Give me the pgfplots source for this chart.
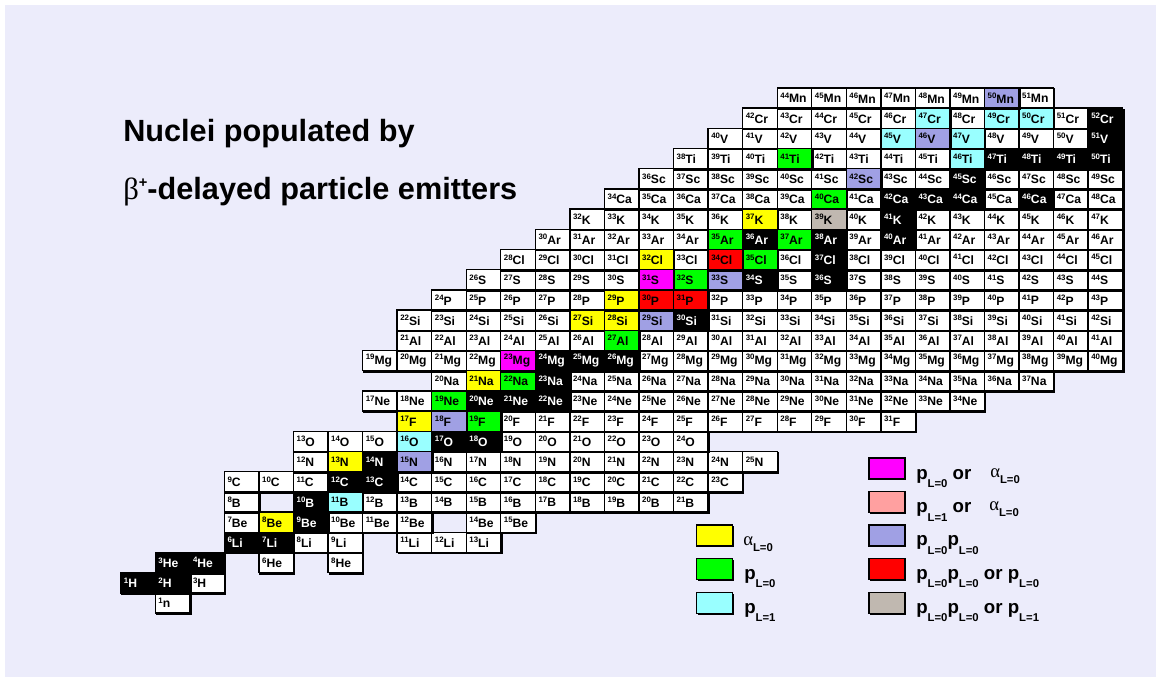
\documentclass[border=0pt]{standalone}
\usepackage{pgfplots}
\pgfplotsset{compat=1.18}
\usepackage{pgfplotstable}
\usepackage{fontspec}
\setmainfont{Liberation Sans}
\newfontfamily\grk{Liberation Serif}
\usetikzlibrary{shadows}

\definecolor{bgl}{RGB}{236,236,251}
\definecolor{cyc}{RGB}{153,255,255}
\definecolor{lav}{RGB}{160,160,228}
\definecolor{tanc}{RGB}{192,184,176}
\definecolor{pinkc}{RGB}{255,160,160}
\definecolor{yel}{RGB}{255,255,0}
\definecolor{grn}{RGB}{0,255,0}
\definecolor{mag}{RGB}{255,0,255}
\definecolor{rd}{RGB}{255,0,0}

\newcommand\cellsup[1]{\raisebox{3.4pt}{\fontsize{5.9}{5.9}\selectfont\bfseries #1}}
\newcommand\lsub[1]{\raisebox{-6.5pt}{\fontsize{8.5}{8.5}\selectfont\bfseries #1}}
\newcommand\asub[1]{\raisebox{-4.5pt}{\fontsize{8.5}{8.5}\selectfont\bfseries #1}}
\newcommand\alp{{\grk\mdseries α}}

\tikzset{
 cell/.style={rectangle, draw=black, line width=1pt, fill=#1, inner xsep=2.4pt, inner ysep=0pt,
   text width=21.1pt, align=left, minimum height=15.15pt, font=\fontsize{9.1}{9.5}\selectfont\bfseries,
   drop shadow={shadow xshift=0.9pt, shadow yshift=-0.9pt, fill=black, opacity=1}},
 swatch/.style={rectangle, draw=black, line width=1pt, fill=#1, inner sep=0pt,
   minimum width=26.8pt, minimum height=15.75pt,
   drop shadow={shadow xshift=0.9pt, shadow yshift=-0.9pt, fill=black, opacity=1}},
}

\pgfplotsset{
 cellplot/.style 2 args={only marks, mark=*, mark size=0.01pt, mark options={draw=none, fill=none},
   forget plot, color=black, point meta=explicit symbolic,
   visualization depends on={\thisrow{A}\as\massA},
   nodes near coords={\cellsup{\pgfmathprintnumber[fixed,precision=0,assume math mode=true]{\massA}}\pgfplotspointmeta},
   every node near coord/.style={cell=#1, text=#2, anchor=center}},
}

% Z = proton number, A = mass number, S = element symbol
\pgfplotstableread{
Z A S
0 1 n
1 3 H
2 6 He
2 8 He
3 8 Li
3 9 Li
3 11 Li
3 12 Li
3 13 Li
4 7 Be
4 10 Be
4 11 Be
4 12 Be
4 14 Be
4 15 Be
5 8 B
5 12 B
5 13 B
5 14 B
5 15 B
5 16 B
5 17 B
5 18 B
5 19 B
5 20 B
5 21 B
6 9 C
6 10 C
6 11 C
6 14 C
6 15 C
6 16 C
6 17 C
6 18 C
6 19 C
6 20 C
6 21 C
6 22 C
6 23 C
7 12 N
7 16 N
7 17 N
7 18 N
7 19 N
7 20 N
7 21 N
7 22 N
7 23 N
7 24 N
7 25 N
8 13 O
8 14 O
8 15 O
8 19 O
8 20 O
8 21 O
8 22 O
8 23 O
8 24 O
9 20 F
9 21 F
9 22 F
9 23 F
9 24 F
9 25 F
9 26 F
9 27 F
9 28 F
9 29 F
9 30 F
9 31 F
10 17 Ne
10 18 Ne
10 23 Ne
10 24 Ne
10 25 Ne
10 26 Ne
10 27 Ne
10 28 Ne
10 29 Ne
10 30 Ne
10 31 Ne
10 32 Ne
10 33 Ne
10 34 Ne
11 20 Na
11 24 Na
11 25 Na
11 26 Na
11 27 Na
11 28 Na
11 29 Na
11 30 Na
11 31 Na
11 32 Na
11 33 Na
11 34 Na
11 35 Na
11 36 Na
11 37 Na
12 19 Mg
12 20 Mg
12 21 Mg
12 22 Mg
12 27 Mg
12 28 Mg
12 29 Mg
12 30 Mg
12 31 Mg
12 32 Mg
12 33 Mg
12 34 Mg
12 35 Mg
12 36 Mg
12 37 Mg
12 38 Mg
12 39 Mg
12 40 Mg
13 21 Al
13 22 Al
13 23 Al
13 24 Al
13 25 Al
13 26 Al
13 28 Al
13 29 Al
13 30 Al
13 31 Al
13 32 Al
13 33 Al
13 34 Al
13 35 Al
13 36 Al
13 37 Al
13 38 Al
13 39 Al
13 40 Al
13 41 Al
14 22 Si
14 23 Si
14 24 Si
14 25 Si
14 26 Si
14 31 Si
14 32 Si
14 33 Si
14 34 Si
14 35 Si
14 36 Si
14 37 Si
14 38 Si
14 39 Si
14 40 Si
14 41 Si
14 42 Si
15 24 P
15 25 P
15 26 P
15 27 P
15 28 P
15 32 P
15 33 P
15 34 P
15 35 P
15 36 P
15 37 P
15 38 P
15 39 P
15 40 P
15 41 P
15 42 P
15 43 P
16 26 S
16 27 S
16 28 S
16 29 S
16 30 S
16 35 S
16 37 S
16 38 S
16 39 S
16 40 S
16 41 S
16 42 S
16 43 S
16 44 S
17 28 Cl
17 29 Cl
17 30 Cl
17 31 Cl
17 33 Cl
17 36 Cl
17 38 Cl
17 39 Cl
17 40 Cl
17 41 Cl
17 42 Cl
17 43 Cl
17 44 Cl
17 45 Cl
18 30 Ar
18 31 Ar
18 32 Ar
18 33 Ar
18 34 Ar
18 39 Ar
18 41 Ar
18 42 Ar
18 43 Ar
18 44 Ar
18 45 Ar
18 46 Ar
19 32 K
19 33 K
19 34 K
19 35 K
19 36 K
19 38 K
19 40 K
19 42 K
19 43 K
19 44 K
19 45 K
19 46 K
19 47 K
20 34 Ca
20 35 Ca
20 36 Ca
20 37 Ca
20 38 Ca
20 39 Ca
20 41 Ca
20 45 Ca
20 47 Ca
20 48 Ca
21 36 Sc
21 37 Sc
21 38 Sc
21 39 Sc
21 40 Sc
21 41 Sc
21 43 Sc
21 44 Sc
21 46 Sc
21 47 Sc
21 48 Sc
21 49 Sc
22 38 Ti
22 39 Ti
22 40 Ti
22 42 Ti
22 43 Ti
22 44 Ti
22 45 Ti
23 40 V
23 41 V
23 42 V
23 43 V
23 44 V
23 48 V
23 49 V
23 50 V
24 42 Cr
24 43 Cr
24 44 Cr
24 45 Cr
24 46 Cr
24 48 Cr
24 51 Cr
25 44 Mn
25 45 Mn
25 46 Mn
25 47 Mn
25 48 Mn
25 49 Mn
25 51 Mn
}\tabwhite

\pgfplotstableread{
Z A S
1 1 H
1 2 H
2 3 He
2 4 He
3 6 Li
3 7 Li
4 9 Be
5 10 B
6 12 C
6 13 C
7 14 N
8 17 O
8 18 O
10 20 Ne
10 21 Ne
10 22 Ne
11 23 Na
12 24 Mg
12 25 Mg
12 26 Mg
14 30 Si
16 34 S
16 36 S
17 37 Cl
18 36 Ar
18 38 Ar
18 40 Ar
19 41 K
20 42 Ca
20 43 Ca
20 44 Ca
20 46 Ca
21 45 Sc
22 47 Ti
22 48 Ti
22 49 Ti
22 50 Ti
23 51 V
24 52 Cr
}\tabblack

\pgfplotstableread{
Z A S
4 8 Be
7 13 N
9 17 F
11 21 Na
14 27 Si
14 28 Si
15 29 P
17 32 Cl
19 37 K
}\tabyellow

\pgfplotstableread{
Z A S
9 19 F
10 19 Ne
11 22 Na
13 27 Al
16 32 S
17 35 Cl
18 35 Ar
18 37 Ar
20 40 Ca
22 41 Ti
}\tabgreen

\pgfplotstableread{
Z A S
5 11 B
8 16 O
22 46 Ti
23 45 V
23 47 V
24 47 Cr
24 49 Cr
24 50 Cr
}\tabcyan

\pgfplotstableread{
Z A S
12 23 Mg
16 31 S
}\tabmagenta

\pgfplotstableread{
Z A S
7 15 N
9 18 F
14 29 Si
16 33 S
21 42 Sc
23 46 V
25 50 Mn
}\tablav

\pgfplotstableread{
Z A S
15 30 P
15 31 P
17 34 Cl
}\tabred

\pgfplotstableread{
Z A S
19 39 K
}\tabtan

\begin{document}
\begin{tikzpicture}
\fill[white] (0,0) rectangle (867pt,507.75pt);
\fill[bgl] (3.75pt,0) rectangle (867pt,504pt);
\begin{axis}[
  at={(0,0)}, anchor=south west,
  scale only axis, hide axis,
  x=25.9125pt, y=15.15pt,
  xmin=-3.994, xmax=29.464, ymin=-3.663, ymax=29.851,
  enlargelimits=false, clip=false,
]
\addplot[cellplot={white}{black}] table[x expr=\thisrow{A}-\thisrow{Z}, y=Z, meta=S] {\tabwhite};
\addplot[cellplot={black}{white}] table[x expr=\thisrow{A}-\thisrow{Z}, y=Z, meta=S] {\tabblack};
\addplot[cellplot={yel}{black}] table[x expr=\thisrow{A}-\thisrow{Z}, y=Z, meta=S] {\tabyellow};
\addplot[cellplot={grn}{black}] table[x expr=\thisrow{A}-\thisrow{Z}, y=Z, meta=S] {\tabgreen};
\addplot[cellplot={cyc}{black}] table[x expr=\thisrow{A}-\thisrow{Z}, y=Z, meta=S] {\tabcyan};
\addplot[cellplot={mag}{black}] table[x expr=\thisrow{A}-\thisrow{Z}, y=Z, meta=S] {\tabmagenta};
\addplot[cellplot={lav}{black}] table[x expr=\thisrow{A}-\thisrow{Z}, y=Z, meta=S] {\tablav};
\addplot[cellplot={rd}{black}] table[x expr=\thisrow{A}-\thisrow{Z}, y=Z, meta=S] {\tabred};
\addplot[cellplot={tanc}{black}] table[x expr=\thisrow{A}-\thisrow{Z}, y=Z, meta=S] {\tabtan};
\end{axis}

\begin{scope}[x=0.75pt, y=-0.75pt, shift={(0,507.75pt)}]
% title
\node[anchor=base west, inner sep=0pt, font=\fontsize{23}{26}\selectfont\bfseries] at (123,142) {Nuclei populated by};
\node[anchor=base west, inner sep=0pt, font=\fontsize{23}{26}\selectfont\bfseries] at (123,199.5)
  {{\grk\mdseries β}\raisebox{9pt}{\fontsize{11}{11}\selectfont +}-delayed particle emitters};
% legend swatches
\node[swatch=yel] at (714.5,535.5) {};
\node[swatch=grn] at (714.5,569) {};
\node[swatch=cyc] at (714.5,603) {};
\node[swatch=mag] at (887,468.5) {};
\node[swatch=pinkc] at (887,502) {};
\node[swatch=lav] at (887,535.5) {};
\node[swatch=rd] at (887,569) {};
\node[swatch=tanc] at (887,603) {};
% legend texts
\begin{scope}[every node/.style={anchor=base west, inner sep=0pt, font=\fontsize{14}{16}\selectfont\bfseries}]
\node at (743,546) {\alp\asub{L=0}};
\node at (744,579.3) {p\lsub{L=0}};
\node at (744,613.3) {p\lsub{L=1}};
\node at (916,479.3) {p\lsub{L=0} or};
\node at (990,477.3) {\alp\asub{L=0}};
\node at (916,512.7) {p\lsub{L=1} or};
\node at (989,510.7) {\alp\asub{L=0}};
\node at (916,546) {p\lsub{L=0}p\lsub{L=0}};
\node at (916,579.3) {p\lsub{L=0}p\lsub{L=0} or p\lsub{L=0}};
\node at (916,613.3) {p\lsub{L=0}p\lsub{L=0} or p\lsub{L=1}};
\end{scope}
\end{scope}
\end{tikzpicture}
\end{document}
